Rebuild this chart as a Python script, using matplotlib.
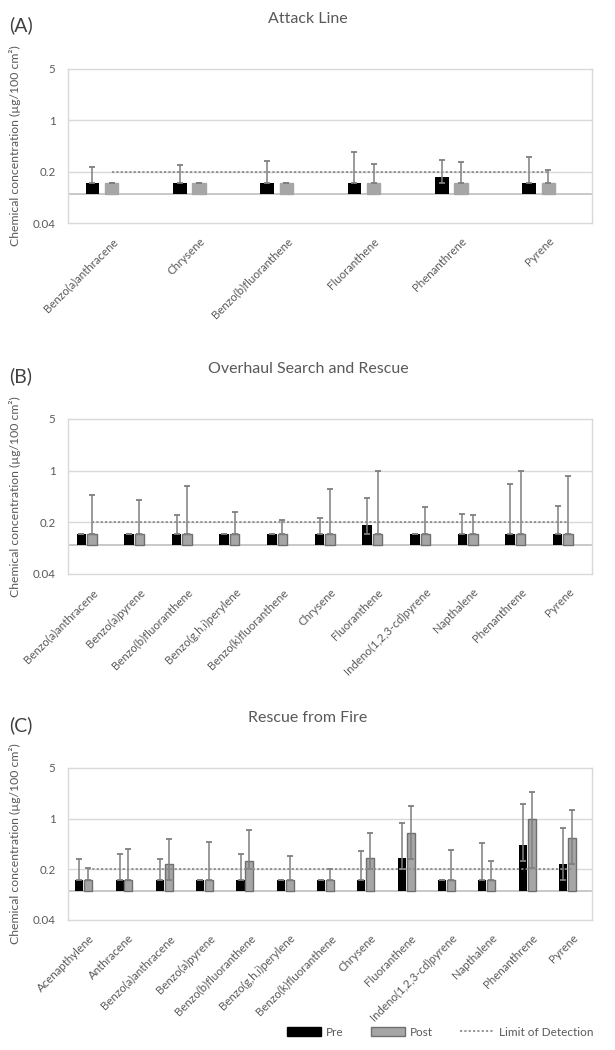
import numpy as np
import matplotlib
matplotlib.use("Agg")
import matplotlib.pyplot as plt
from matplotlib.patches import Patch
from matplotlib.lines import Line2D

plt.rcParams['font.family'] = ['Lato', 'DejaVu Sans']

LOD = 0.2
BASE = 0.1

# ---- (A) Attack Line ----
a_cats = ["Benzo(a)anthracene", "Chrysene", "Benzo(b)fluoranthene",
          "Fluoranthene", "Phenanthrene", "Pyrene"]
a_pre = [0.141, 0.141, 0.141, 0.141, 0.169, 0.141]
a_pre_hi = [0.229, 0.244, 0.276, 0.371, 0.289, 0.32]
a_pre_lo = [0.141, 0.141, 0.141, 0.141, 0.14, 0.141]
a_post = [0.141, 0.141, 0.141, 0.141, 0.141, 0.141]
a_post_hi = [0.141, 0.141, 0.141, 0.251, 0.271, 0.211]
a_post_lo = [0.141, 0.141, 0.141, 0.141, 0.141, 0.141]

# ---- (B) Overhaul Search and Rescue ----
b_cats = ["Benzo(a)anthracene", "Benzo(a)pyrene", "Benzo(b)fluoranthene",
          "Benzo(g,h,i)perylene", "Benzo(k)fluoranthene", "Chrysene",
          "Fluoranthene", "Indeno(1,2,3-cd)pyrene", "Napthalene",
          "Phenanthrene", "Pyrene"]
b_pre = [0.141, 0.141, 0.141, 0.141, 0.141, 0.141, 0.184, 0.141, 0.141, 0.141, 0.141]
b_pre_hi = [0.141, 0.141, 0.248, 0.141, 0.141, 0.229, 0.421, 0.141, 0.262, 0.662, 0.328]
b_pre_lo = [0.141, 0.141, 0.141, 0.141, 0.141, 0.141, 0.139, 0.141, 0.141, 0.141, 0.141]
b_post = [0.141] * 11
b_post_hi = [0.466, 0.399, 0.622, 0.278, 0.217, 0.573, 1.0, 0.318, 0.248, 0.98, 0.848]
b_post_lo = [0.141] * 11

# ---- (C) Rescue from Fire ----
c_cats = ["Acenapthylene", "Anthracene", "Benzo(a)anthracene", "Benzo(a)pyrene",
          "Benzo(b)fluoranthene", "Benzo(g,h,i)perylene", "Benzo(k)fluoranthene",
          "Chrysene", "Fluoranthene", "Indeno(1,2,3-cd)pyrene", "Napthalene",
          "Phenanthrene", "Pyrene"]
c_pre = [0.141, 0.141, 0.141, 0.141, 0.141, 0.141, 0.141, 0.141, 0.284, 0.141, 0.141, 0.43, 0.237]
c_pre_hi = [0.281, 0.322, 0.281, 0.141, 0.322, 0.141, 0.141, 0.362, 0.86, 0.141, 0.466, 1.6, 0.75]
c_pre_lo = [0.141, 0.141, 0.141, 0.141, 0.141, 0.141, 0.141, 0.141, 0.2, 0.141, 0.141, 0.26, 0.141]
c_post = [0.141, 0.141, 0.234, 0.141, 0.262, 0.141, 0.141, 0.289, 0.627, 0.141, 0.141, 1.0, 0.54]
c_post_hi = [0.211, 0.382, 0.524, 0.481, 0.705, 0.309, 0.2, 0.637, 1.51, 0.374, 0.262, 2.33, 1.31]
c_post_lo = [0.141, 0.141, 0.141, 0.141, 0.2, 0.141, 0.141, 0.2, 0.28, 0.141, 0.141, 0.21, 0.24]

TXT = '#595959'
GRID = '#d9d9d9'
ERR = '#7f7f7f'
POST = '#a6a6a6'


def panel(ax, cats, pre, pre_lo, pre_hi, post, post_lo, post_hi, width, post_edge):
    x = np.arange(len(cats))
    ax.set_yscale('log')
    ax.set_ylim(0.04, 5)
    ax.set_xlim(-0.5, len(cats) - 0.5)
    for v in [0.2, 1]:
        ax.axhline(v, color=GRID, lw=1, zorder=0)
    ax.axhline(BASE, color='#bfbfbf', lw=1.2, zorder=1)

    pre = np.array(pre); post = np.array(post)
    off = 0.22
    ax.bar(x - off, pre - BASE, bottom=BASE, width=width, color='black', zorder=2)
    ax.bar(x, post - BASE, bottom=BASE, width=width, color=POST,
           edgecolor=post_edge, linewidth=1, zorder=2)
    ax.errorbar(x - off, pre, yerr=[pre - np.array(pre_lo), np.array(pre_hi) - pre],
                fmt='none', ecolor=ERR, elinewidth=1.1, capsize=2.5, capthick=1.3, zorder=3)
    ax.errorbar(x, post, yerr=[post - np.array(post_lo), np.array(post_hi) - post],
                fmt='none', ecolor=ERR, elinewidth=1.1, capsize=2.5, capthick=1.3, zorder=3)
    ax.plot([x[0], x[-1]], [LOD, LOD], ls=(0, (1.2, 1.2)), color='#8c8c8c', lw=1.3, zorder=4)

    ax.set_yticks([0.04, 0.2, 1, 5])
    ax.set_yticklabels(['0.04', '0.2', '1', '5'])
    ax.yaxis.set_minor_locator(matplotlib.ticker.NullLocator())
    ax.set_xticks(x)
    ax.set_xticklabels(cats, rotation=45, ha='right', rotation_mode='anchor')
    ax.tick_params(length=0, colors=TXT, labelsize=8.3)
    ax.tick_params(axis='x', pad=9)
    ax.tick_params(axis='y', pad=9)
    for s in ax.spines.values():
        s.set_color(GRID)
        s.set_linewidth(1)
    ax.set_ylabel('Chemical concentration (µg/100 cm²)', color=TXT, fontsize=8.8, labelpad=8)


fig = plt.figure(figsize=(6.15, 10.5), dpi=100)
L, W = 68 / 615, 524 / 615

axA = fig.add_axes([L, 1 - 223 / 1050, W, 154 / 1050])
axB = fig.add_axes([L, 1 - 574 / 1050, W, 155 / 1050])
axC = fig.add_axes([L, 1 - 920 / 1050, W, 152 / 1050])

panel(axA, a_cats, a_pre, a_pre_lo, a_pre_hi, a_post, a_post_lo, a_post_hi, 0.155, POST)
panel(axB, b_cats, b_pre, b_pre_lo, b_pre_hi, b_post, b_post_lo, b_post_hi, 0.2, '#6f6f6f')
panel(axC, c_cats, c_pre, c_pre_lo, c_pre_hi, c_post, c_post_lo, c_post_hi, 0.2, '#6f6f6f')

for label, title, ty, ly in [("(A)", "Attack Line", 19, 25),
                             ("(B)", "Overhaul Search and Rescue", 369, 376),
                             ("(C)", "Rescue from Fire", 718, 725)]:
    fig.text(308 / 615, 1 - ty / 1050, title, ha='center', va='center', fontsize=11.5, color=TXT)
    fig.text(9 / 615, 1 - ly / 1050, label, ha='left', va='center', fontsize=14, color='#404040')

handles = [Patch(facecolor='black', edgecolor='black'),
           Patch(facecolor=POST, edgecolor='#6f6f6f'),
           Line2D([], [], ls=(0, (1.2, 1.2)), color='#8c8c8c', lw=1.3)]
fig.legend(handles, ['Pre', 'Post', 'Limit of Detection'], loc='center',
           bbox_to_anchor=(440 / 615, 1 - 1032 / 1050), ncol=3, frameon=False,
           fontsize=8.5, handlelength=2.9, handleheight=0.8, columnspacing=2.3,
           handletextpad=0.4, labelcolor=TXT)

fig.savefig('out.png', dpi=100)
